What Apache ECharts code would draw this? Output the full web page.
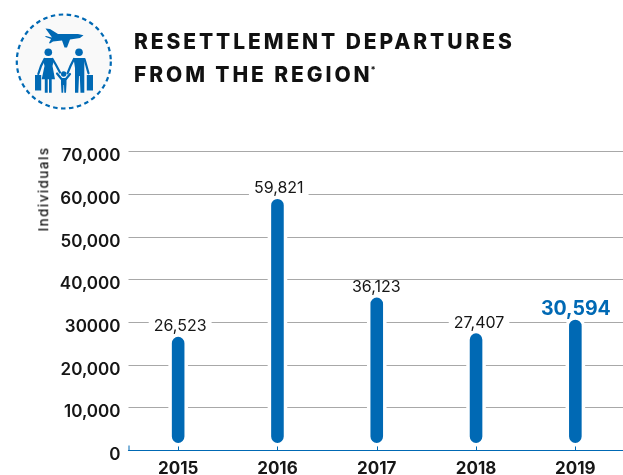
<!DOCTYPE html>
<html><head><meta charset="utf-8">
<script src="https://cdn.jsdelivr.net/npm/echarts@6/dist/echarts.min.js"></script>
<style>
html,body{margin:0;padding:0;background:#fff;width:623px;height:475px;overflow:hidden}
#c{position:absolute;left:0;top:0;width:623px;height:475px}
.t{position:absolute;left:134px;font:800 21px/24px Inter,Lato,sans-serif;letter-spacing:2.9px;color:#111;white-space:nowrap}
.t sup{font-size:9px;line-height:0;letter-spacing:0;vertical-align:9px;margin-left:-2px}
.n{position:absolute;left:43.5px;top:189px;width:0;height:0;white-space:nowrap;color:#111;font:500 13.5px/1 Inter,Lato,sans-serif;letter-spacing:1.4px}
.n span{position:absolute;transform:translate(-50%,-50%) rotate(-90deg)}
</style></head><body>
<div id="c"></div>
<div class="t" style="top:30px">RESETTLEMENT DEPARTURES</div>
<div class="t" style="top:63px">FROM THE REGION<sup>*</sup></div>
<div class="n"><span id="yname"></span></div>
<script>
const categories = ['2015','2016','2017','2018','2019'];
// Bar heights as drawn in the picture, and the printed labels above them.
const barHeights = [26590,58900,35800,27407,30594];
const valueLabels = ['26,523','59,821','36,123','27,407','30,594'];
const yTickLabels = ['0','10,000','20,000','30000','40,000','50,000','60,000','70,000'];
const yAxisName = 'Individuals';
document.getElementById('yname').textContent = yAxisName;

const BLUE = '#0069b4', INK = '#161616', FONT = 'Inter,Lato,sans-serif';
const HIGHLIGHT = categories.length - 1;
const BAR_W = 12.6, BAR_GAP = 7.5, HALO = 3.5;
const LABEL_SHIFT_X = [2,1.3,-0.5,3,0.5];

const chart = echarts.init(document.getElementById('c'), null, {renderer:'canvas'});
const ic = {fill:BLUE};
const poly = (pts)=>({type:'polygon',shape:{points:pts},style:ic});
const arm = (pts)=>({type:'polyline',shape:{points:pts},style:{stroke:BLUE,lineWidth:2.2,fill:'none',lineCap:'round'}});
chart.setOption({
  animation:false,
  backgroundColor:'#fff',
  grid:{left:128.5,width:496.5,top:151.5,height:298.9,containLabel:false,outerBoundsMode:'none'},
  xAxis:{type:'category',data:categories,boundaryGap:true,
    axisLine:{lineStyle:{color:BLUE,width:1.2}},
    axisTick:{show:true,alignWithLabel:true,inside:true,length:4.5,lineStyle:{color:BLUE,width:1}},
    axisLabel:{color:INK,fontFamily:FONT,fontSize:17,fontWeight:700,margin:9.5}},
  yAxis:{type:'value',min:0,max:70000,interval:10000,
    axisLine:{show:false},axisTick:{show:false},
    splitLine:{lineStyle:{color:'#a8a8a8',width:1}},
    axisLabel:{color:INK,fontFamily:FONT,fontSize:17,fontWeight:600,margin:8,verticalAlign:'top',lineHeight:9,
      formatter:(v)=>yTickLabels[v/10000]}},
  series:[{type:'custom',clip:false,data:barHeights.map((v,i)=>[i,v]),
    encode:{x:0,y:1},
    renderItem(params,api){
      const i=api.value(0), top=api.coord([i,api.value(1)]), base=api.coord([i,0]);
      const x=top[0]-BAR_W/2, y=top[1], h=base[1]-BAR_GAP-top[1];
      const hi=i===HIGHLIGHT;
      return {type:'group',children:[
        {type:'rect',shape:{x:x-HALO,y:y-HALO,width:BAR_W+2*HALO,height:h+2*HALO,r:(BAR_W+2*HALO)/2},style:{fill:'#fff'}},
        {type:'rect',shape:{x,y,width:BAR_W,height:h,r:BAR_W/2},style:{fill:BLUE}},
        {type:'text',x:top[0]+LABEL_SHIFT_X[i],y:y-10.5,style:{text:valueLabels[i],align:'center',verticalAlign:'middle',
          fill:hi?BLUE:INK,fontFamily:FONT,fontSize:hi?19.5:16,fontWeight:hi?700:400,lineHeight:13,
          backgroundColor:hi?'transparent':'#fff',padding:[0,5]}}
      ]};
    }}],
  graphic:[
    {type:'line',shape:{x1:129,y1:445.5,x2:129,y2:450},style:{stroke:BLUE,lineWidth:1}},
    {type:'circle',shape:{cx:63.8,cy:61.5,r:47},style:{fill:'#f9f9f9',stroke:BLUE,lineWidth:2.2,lineDash:[4.5,3.5]}},
    poly([[45.5,28.5],[50,29],[58,34],[78,34],[83.5,35.2],[80,38],[70,39.5],[67,47.5],[64.5,47.5],[62,40.5],[53,41.5],[50,43.5],[49,43],[51,39],[45,36.8],[46,36],[52,37.5]]),
    {type:'circle',shape:{cx:48.3,cy:52.3,r:3.8},style:ic},
    {type:'circle',shape:{cx:79,cy:52.3,r:3.8},style:ic},
    {type:'circle',shape:{cx:63.7,cy:74,r:2.7},style:ic},
    // woman
    poly([[44.5,58],[52.5,58],[53.5,62],[52.5,66],[55,79.3],[51.7,79.3],[51.7,92.7],[49,92.7],[49,79.3],[47.7,79.3],[47.7,92.7],[44.8,92.7],[44.8,79.3],[41.7,79.3],[44.5,66],[43.5,62]]),
    arm([[44.5,59],[41,66],[38.3,74]]),
    arm([[52.5,59],[56,65],[60,72.5]]),
    // man
    poly([[73.5,58],[84.5,58],[84.3,68],[84.3,92.7],[80.5,92.7],[79.8,76],[79,76],[78.3,92.7],[75,92.7],[75,68]]),
    arm([[74,59],[70.5,66],[67.5,73.3]]),
    arm([[84.5,59],[86.5,66],[88.5,73.3]]),
    // child
    poly([[61,78],[66.5,78],[66.5,84],[66,92.7],[64.3,92.7],[64,85],[63.5,85],[63.2,92.7],[61.5,92.7],[61,84]]),
    arm([[57,73.5],[61.5,79]]),
    arm([[70,74],[66,79]]),
    {type:'rect',shape:{x:35,y:75,width:6.2,height:15.5},style:ic},
    {type:'rect',shape:{x:86.8,y:75,width:6.2,height:15.5},style:ic}
  ]
});
</script></body></html>
